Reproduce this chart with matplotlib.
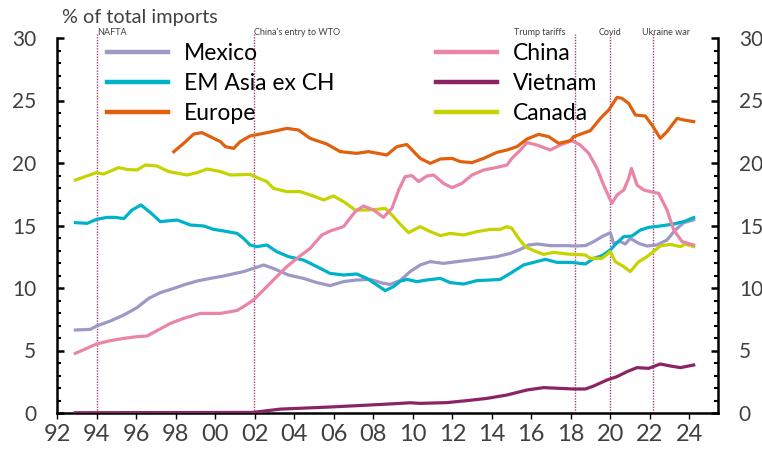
import matplotlib
matplotlib.use("Agg")
import matplotlib.pyplot as plt
from matplotlib.lines import Line2D
from matplotlib.ticker import MultipleLocator
import numpy as np

plt.rcParams['font.family'] = ['Lato', 'DejaVu Sans']

# ---- data ----
mexico_x = [1992.93, 1993.69, 1994.0, 1994.7, 1995.38, 1996.05, 1996.64, 1997.23, 1997.91, 1998.5,
            1999.09, 1999.76, 2000.44, 2001.11, 2001.44, 2001.94, 2002.45, 2002.95, 2003.71, 2004.47,
            2005.15, 2005.82, 2006.5, 2007.17, 2007.85, 2008.52, 2008.86, 2009.37, 2009.87, 2010.38,
            2010.89, 2011.56, 2012.24, 2012.91, 2013.59, 2014.26, 2014.94, 2015.45, 2015.87, 2016.29,
            2016.96, 2017.81, 2018.15, 2018.74, 2019.16, 2019.58, 2020.0, 2020.17, 2020.51, 2020.76,
            2021.01, 2021.44, 2021.86, 2022.36, 2022.87, 2023.29, 2023.72, 2024.22]
mexico_y = [6.64, 6.69, 6.96, 7.36, 7.84, 8.43, 9.17, 9.63, 9.97, 10.29,
            10.56, 10.77, 10.96, 11.2, 11.31, 11.57, 11.84, 11.57, 11.04, 10.77,
            10.43, 10.19, 10.51, 10.64, 10.69, 10.37, 10.29, 10.6, 11.31, 11.84,
            12.11, 11.97, 12.11, 12.24, 12.37, 12.51, 12.77, 13.09, 13.44, 13.52,
            13.39, 13.39, 13.36, 13.39, 13.71, 14.11, 14.43, 13.57, 13.71, 13.52,
            13.97, 13.57, 13.36, 13.44, 13.84, 14.64, 15.23, 15.45]

emasia_x = [1992.93, 1993.52, 1994.0, 1994.53, 1994.95, 1995.38, 1995.8, 1996.25, 1996.73, 1997.23,
            1998.08, 1998.75, 1999.43, 1999.93, 2000.44, 2001.11, 2001.44, 2001.77, 2002.11, 2002.62,
            2003.12, 2003.71, 2004.47, 2005.15, 2005.82, 2006.5, 2007.17, 2007.68, 2008.19, 2008.61,
            2009.03, 2009.37, 2009.71, 2010.21, 2010.72, 2011.4, 2011.9, 2012.58, 2013.25, 2013.93,
            2014.43, 2014.94, 2015.61, 2016.12, 2016.71, 2017.3, 2017.81, 2018.15, 2018.74, 2019.16,
            2019.58, 2020.0, 2020.34, 2020.68, 2021.1, 2021.52, 2021.94, 2022.53, 2023.21, 2023.72, 2024.22]
emasia_y = [15.23, 15.17, 15.49, 15.65, 15.65, 15.55, 16.24, 16.64, 16.03, 15.31,
            15.44, 15.04, 14.96, 14.69, 14.56, 14.37, 13.97, 13.44, 13.31, 13.44,
            12.91, 12.51, 12.24, 11.71, 11.17, 11.04, 11.12, 10.77, 10.24, 9.79,
            10.11, 10.55, 10.69, 10.51, 10.64, 10.77, 10.43, 10.32, 10.59, 10.64,
            10.69, 11.17, 11.84, 12.05, 12.29, 12.05, 12.05, 12.03, 11.92, 12.37,
            12.59, 13.04, 13.63, 14.11, 14.16, 14.64, 14.85, 14.96, 15.12, 15.31, 15.63]

europe_x = [1997.91, 1998.41, 1998.92, 1999.34, 1999.76, 2000.27, 2000.52, 2000.94, 2001.27, 2001.77,
            2002.45, 2003.12, 2003.63, 2004.22, 2004.81, 2005.65, 2006.33, 2007.17, 2007.76, 2008.69,
            2009.2, 2009.7, 2010.38, 2010.89, 2011.4, 2011.99, 2012.41, 2013.0, 2013.59, 2014.26,
            2014.77, 2015.28, 2015.78, 2016.37, 2016.88, 2017.39, 2017.98, 2018.15, 2018.99, 2019.5,
            2019.92, 2020.34, 2020.59, 2020.93, 2021.27, 2021.77, 2022.11, 2022.53, 2022.87, 2023.38,
            2023.72, 2024.22]
europe_y = [20.9, 21.57, 22.32, 22.43, 22.1, 21.71, 21.31, 21.17, 21.71, 22.16,
            22.37, 22.59, 22.77, 22.64, 21.97, 21.52, 20.91, 20.77, 20.91, 20.64,
            21.31, 21.48, 20.37, 19.97, 20.32, 20.37, 20.11, 20.03, 20.37, 20.85,
            21.04, 21.31, 21.92, 22.29, 22.11, 21.57, 21.79, 22.11, 22.59, 23.57,
            24.24, 25.25, 25.17, 24.77, 23.84, 23.76, 23.04, 21.97, 22.51, 23.57,
            23.44, 23.31]

china_x = [1992.93, 1994.0, 1994.7, 1995.38, 1996.05, 1996.56, 1997.06, 1997.74, 1998.41, 1999.26,
           2000.27, 2001.11, 2001.44, 2001.94, 2002.45, 2002.95, 2003.63, 2004.14, 2004.81, 2005.4,
           2005.82, 2006.5, 2007.09, 2007.51, 2008.02, 2008.52, 2008.95, 2009.29, 2009.62, 2009.96,
           2010.3, 2010.72, 2011.06, 2011.56, 2011.99, 2012.49, 2013.0, 2013.59, 2014.26, 2014.77,
           2015.02, 2015.45, 2015.78, 2016.29, 2016.96, 2017.47, 2018.06, 2018.48, 2018.91, 2019.33,
           2019.66, 2020.08, 2020.34, 2020.68, 2020.93, 2021.07, 2021.35, 2021.69, 2022.03, 2022.45,
           2022.87, 2023.21, 2023.63, 2024.22]
china_y = [4.77, 5.52, 5.79, 5.97, 6.11, 6.16, 6.59, 7.17, 7.57, 7.97,
           7.97, 8.2, 8.51, 9.04, 9.84, 10.64, 11.71, 12.37, 13.17, 14.24,
           14.56, 14.91, 16.11, 16.56, 16.24, 15.65, 16.37, 17.84, 18.91, 18.99,
           18.51, 18.96, 19.04, 18.37, 18.03, 18.37, 19.04, 19.44, 19.65, 19.84,
           20.37, 21.04, 21.63, 21.44, 21.04, 21.44, 21.79, 21.44, 20.77, 19.57,
           18.24, 16.77, 17.44, 17.84, 18.77, 19.57, 18.24, 17.84, 17.71, 17.57,
           16.24, 14.64, 13.71, 13.44]

vietnam_x = [1992.93, 1996.0, 2000.0, 2001.94, 2003.29, 2005.82, 2007.85, 2009.37, 2009.87, 2010.38,
             2011.73, 2012.74, 2013.76, 2014.77, 2015.78, 2016.63, 2017.47, 2018.15, 2018.74, 2019.16,
             2019.83, 2020.34, 2020.85, 2021.35, 2021.94, 2022.53, 2023.04, 2023.55, 2024.22]
vietnam_y = [0.02, 0.03, 0.04, 0.05, 0.31, 0.48, 0.64, 0.77, 0.82, 0.77,
             0.83, 0.99, 1.17, 1.44, 1.84, 2.03, 1.97, 1.92, 1.92, 2.16,
             2.64, 2.91, 3.31, 3.63, 3.57, 3.92, 3.76, 3.63, 3.84]

canada_x = [1992.93, 1994.0, 1994.36, 1995.12, 1995.54, 1996.05, 1996.47, 1997.06, 1997.65, 1998.58,
            1999.09, 1999.6, 2000.27, 2000.78, 2001.77, 2001.94, 2002.62, 2002.95, 2003.63, 2004.3,
            2004.98, 2005.49, 2005.99, 2006.5, 2007.09, 2007.68, 2008.19, 2008.61, 2008.95, 2009.37,
            2009.79, 2010.38, 2010.89, 2011.4, 2011.9, 2012.58, 2013.25, 2013.93, 2014.43, 2014.77,
            2015.02, 2015.36, 2015.7, 2016.12, 2016.63, 2017.13, 2017.81, 2018.15, 2018.74, 2018.99,
            2019.58, 2020.0, 2020.25, 2020.68, 2021.01, 2021.44, 2021.86, 2022.53, 2023.04, 2023.55,
            2023.8, 2024.22]
canada_y = [18.64, 19.23, 19.12, 19.63, 19.49, 19.44, 19.84, 19.76, 19.31, 19.04,
            19.23, 19.52, 19.31, 19.04, 19.09, 18.96, 18.51, 17.97, 17.71, 17.71,
            17.36, 17.04, 17.36, 16.91, 16.24, 16.24, 16.29, 16.37, 15.84, 15.1,
            14.43, 14.91, 14.51, 14.19, 14.37, 14.24, 14.51, 14.69, 14.69, 14.91,
            14.77, 13.97, 13.31, 12.99, 12.69, 12.85, 12.72, 12.69, 12.64, 12.37,
            12.37, 12.91, 12.11, 11.71, 11.31, 12.11, 12.51, 13.36, 13.49, 13.31,
            13.52, 13.31]

series_names = ["Mexico", "EM Asia ex CH", "Europe", "China", "Vietnam", "Canada"]
event_years = [1994.0, 2001.95, 2018.2, 2020.0, 2022.15]
event_labels = ["NAFTA", "China's entry to WTO", "Trump tariffs", "Covid", "Ukraine war"]
xtick_years = list(range(1992, 2025, 2))
xtick_labels = [f"{y % 100:02d}" for y in xtick_years]

colors = {
    "Mexico": "#9d99c7",
    "EM Asia ex CH": "#00b2c9",
    "Europe": "#e0600e",
    "China": "#e985a5",
    "Vietnam": "#8a2465",
    "Canada": "#c6d300",
}
data = {
    "Mexico": (mexico_x, mexico_y),
    "EM Asia ex CH": (emasia_x, emasia_y),
    "Europe": (europe_x, europe_y),
    "China": (china_x, china_y),
    "Vietnam": (vietnam_x, vietnam_y),
    "Canada": (canada_x, canada_y),
}

fig = plt.figure(figsize=(7.62, 4.49), dpi=100)
ax = fig.add_axes([57/762, 1-413/449, (718-57)/762, (413-38)/449])

# event lines
for ex in event_years:
    ax.plot([ex, ex], [0, 30.3], color="#a0407a", lw=1.0, ls=(0, (1, 1)), zorder=1, clip_on=False)

draw_order = ["Vietnam", "Mexico", "EM Asia ex CH", "Canada", "China", "Europe"]
for name in draw_order:
    x, y = data[name]
    ax.plot(x, y, color=colors[name], lw=2.3, solid_joinstyle="round", zorder=3)

ax.set_xlim(1992, 2025.45)
ax.set_ylim(0, 30)

ax.set_xticks(xtick_years)
ax.set_xticklabels(xtick_labels)
ax.yaxis.set_major_locator(MultipleLocator(5))
ax.yaxis.set_minor_locator(MultipleLocator(1))

for s in ["left", "bottom", "right"]:
    ax.spines[s].set_linewidth(1.8)
    ax.spines[s].set_color("black")
ax.spines["top"].set_visible(False)

ax.tick_params(axis="y", which="major", direction="in", length=5, width=1.8, labelsize=15,
               labelcolor="#404040", pad=15, right=True, labelright=True)
ax.tick_params(axis="y", which="minor", direction="in", length=3, width=1.5, right=True)
ax.tick_params(axis="x", which="major", direction="out", length=4, width=1.0, labelsize=17,
               labelcolor="#404040", pad=4)

# event labels
ev_ha = ["left", "left", "right", "center", "left"]
ev_x = [1994.05, 2001.98, 2017.75, 2020.0, 2021.62]
for lx, lab, ha in zip(ev_x, event_labels, ev_ha):
    ax.text(lx, 30.05, lab, fontsize=6.5, color="#404040", ha=ha, va="bottom")

fig.text(62/762, 1-18/449, "% of total imports", fontsize=14.3, color="#404040", va="center", ha="left")

# legends
def handles(names):
    return [Line2D([], [], color=colors[n], lw=3.2) for n in names]

leg_kw = dict(loc="upper left", frameon=False, fontsize=16.5, handlelength=2.66,
              handletextpad=0.7, labelspacing=0.39, borderpad=0, borderaxespad=0)
leg1 = fig.legend(handles(series_names[:3]), series_names[:3],
                  bbox_to_anchor=(107/762, 1-43/449), **leg_kw)
leg2 = fig.legend(handles(series_names[3:]), series_names[3:],
                  bbox_to_anchor=(436/762, 1-43/449), **leg_kw)

fig.savefig("out.png", dpi=100)
